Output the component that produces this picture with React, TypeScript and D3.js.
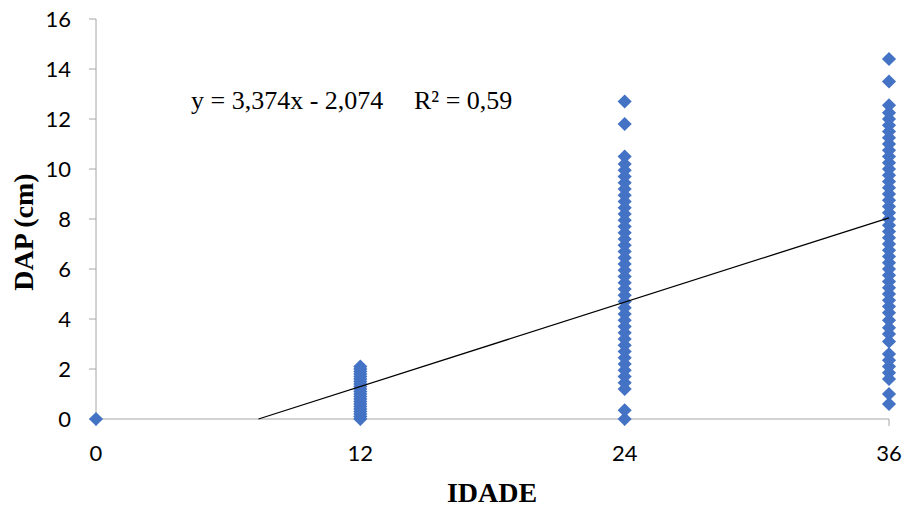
import React from "react";
import * as d3 from "d3";

const xTicks = [0, 12, 24, 36];
const yTicks = [0, 2, 4, 6, 8, 10, 12, 14, 16];

const age0 = [0];
const age12 = [0, 0.1, 0.2, 0.3, 0.4, 0.5, 0.6, 0.7, 0.8, 0.9, 1.0, 1.1, 1.2, 1.3, 1.4, 1.5, 1.6, 1.7, 1.8, 1.9, 2.0, 2.1];
const age24 = [0, 0.35, 1.2, 1.45, 1.7, 1.95, 2.2, 2.45, 2.7, 2.95, 3.2, 3.45, 3.7, 3.95, 4.2, 4.45, 4.7, 4.95, 5.2, 5.45, 5.7, 5.95, 6.2, 6.45, 6.7, 6.95, 7.2, 7.45, 7.7, 7.95, 8.2, 8.45, 8.7, 8.95, 9.2, 9.45, 9.7, 9.95, 10.2, 10.5, 11.8, 12.7];
const age36 = [0.6, 1.0, 1.6, 1.85, 2.1, 2.35, 2.6, 3.1, 3.4, 3.65, 3.95, 4.25, 4.5, 4.75, 5.0, 5.25, 5.5, 5.75, 6.0, 6.25, 6.5, 6.75, 7.0, 7.25, 7.5, 7.75, 8.0, 8.25, 8.5, 8.75, 9.0, 9.25, 9.5, 9.75, 10.0, 10.25, 10.5, 10.75, 11.0, 11.25, 11.5, 11.75, 12.0, 12.25, 12.55, 13.5, 14.4];

const groups: [number, number[]][] = [
  [0, age0],
  [12, age12],
  [24, age24],
  [36, age36],
];

const slope = 3.374;
const intercept = -2.074;
const equation = "y = 3,374x - 2,074";
const r2Label = "R² = 0,59";

export default function App() {
  const W = 907, H = 507;
  const x = d3.scaleLinear().domain([0, 36]).range([96, 889]);
  const y = d3.scaleLinear().domain([0, 16]).range([419, 19]);
  const diamond = d3.symbol().type(d3.symbolSquare).size(100)();
  const trend = (xv: number) => slope * (xv / 12) + intercept;
  const xStart = (-intercept / slope) * 12;
  const tickFont = "Lato, 'Open Sans', sans-serif";
  const serif = "'Liberation Serif', 'Times New Roman', serif";

  return (
    <svg width={W} height={H} style={{ position: "absolute", left: 0, top: 0, background: "#fff" }}>
      {/* y axis */}
      <line x1={x(0)} x2={x(0)} y1={y(16)} y2={y(0)} stroke="#a6a6a6" strokeWidth={1} />
      {yTicks.map((t) => (
        <g key={"y" + t}>
          <line x1={x(0) - 7} x2={x(0)} y1={y(t)} y2={y(t)} stroke="#a6a6a6" />
          <text x={71} y={y(t)} dy="0.36em" textAnchor="end" fontSize={22} fontFamily={tickFont} fill="#000">
            {t}
          </text>
        </g>
      ))}
      {/* x axis */}
      <line x1={x(0)} x2={x(36)} y1={y(0)} y2={y(0)} stroke="#a6a6a6" strokeWidth={1} />
      {xTicks.map((t) => (
        <g key={"x" + t}>
          <line x1={x(t)} x2={x(t)} y1={y(0)} y2={y(0) + 7} stroke="#a6a6a6" />
          <text x={x(t)} y={461} textAnchor="middle" fontSize={22} fontFamily={tickFont} fill="#000">
            {t}
          </text>
        </g>
      ))}
      {/* points */}
      {groups.map(([xv, vals]) =>
        vals.map((v, i) => (
          <path key={xv + "-" + i} d={diamond!} transform={`translate(${x(xv)},${y(v)}) rotate(45)`} fill="#4472c4" />
        ))
      )}
      {/* trend line */}
      <line x1={x(xStart)} y1={y(0)} x2={x(36)} y2={y(trend(36))} stroke="#000" strokeWidth={1.3} />
      {/* equation */}
      <text x={191} y={109} fontSize={26} fontFamily={serif} fill="#000">
        {equation}
        <tspan x={414}>{r2Label}</tspan>
      </text>
      {/* axis titles */}
      <text x={492} y={502} textAnchor="middle" fontSize={28} fontWeight="bold" fontFamily={serif} fill="#000">
        IDADE
      </text>
      <text transform="translate(33,232) rotate(-90)" textAnchor="middle" fontSize={28} fontWeight="bold" fontFamily={serif} fill="#000">
        DAP (cm)
      </text>
    </svg>
  );
}
